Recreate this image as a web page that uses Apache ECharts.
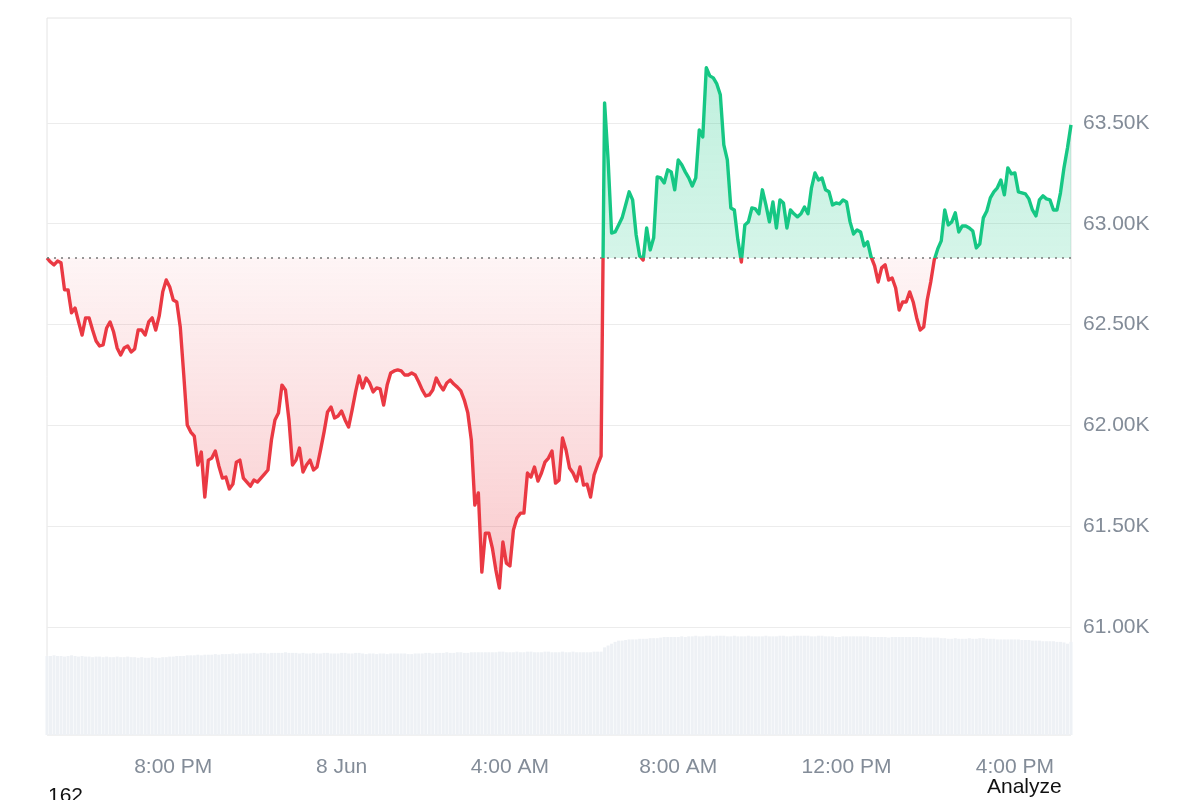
<!DOCTYPE html>
<html>
<head>
<meta charset="utf-8">
<title>24h price</title>
<script src="https://cdn.jsdelivr.net/npm/echarts@6.0.0/dist/echarts.min.js"></script>
<style>
html, body { margin: 0; padding: 0; background: #fff; }
#root { width: 1200px; height: 800px; }
</style>
</head>
<body>
<div id="root"></div>
<script>
// 5 minute closes, 7 Jun 17:00 -> 8 Jun 17:20, one row per hour
const prices = [
	62830, 62810, 62796, 62815, 62806, 62672, 62672, 62558, 62582, 62513, 62448, 62533,
	62533, 62473, 62419, 62394, 62399, 62483, 62513, 62463, 62384, 62349, 62384, 62394,
	62364, 62379, 62473, 62473, 62448, 62513, 62533, 62473, 62543, 62662, 62721, 62686,
	62622, 62612, 62488, 62250, 62002, 61967, 61947, 61804, 61868, 61645, 61828, 61838,
	61873, 61799, 61739, 61744, 61685, 61709, 61818, 61828, 61739, 61719, 61699, 61729,
	61719, 61739, 61759, 61779, 61928, 62027, 62062, 62200, 62176, 62027, 61804, 61828,
	61888, 61769, 61804, 61828, 61779, 61794, 61878, 61967, 62067, 62091, 62037, 62047,
	62071, 62027, 61992, 62076, 62166, 62245, 62186, 62235, 62210, 62166, 62186, 62181,
	62101, 62200, 62260, 62270, 62275, 62270, 62250, 62250, 62260, 62250, 62215, 62176,
	62146, 62151, 62176, 62235, 62200, 62176, 62210, 62225, 62205, 62190, 62171, 62126,
	62062, 61928, 61605, 61665, 61273, 61466, 61466, 61392, 61283, 61194, 61422, 61317,
	61303, 61481, 61541, 61565, 61565, 61764, 61744, 61794, 61724, 61764, 61818, 61838,
	61873, 61714, 61729, 61938, 61878, 61789, 61764, 61724, 61794, 61704, 61709, 61645,
	61754, 61804, 61848, 63599, 63316, 62954, 62959, 62994, 63029, 63093, 63158, 63118,
	62944, 62840, 62820, 62979, 62870, 62930, 63232, 63227, 63202, 63267, 63257, 63168,
	63316, 63292, 63257, 63227, 63187, 63227, 63465, 63430, 63773, 63733, 63723, 63693,
	63639, 63391, 63316, 63078, 63068, 62920, 62810, 62994, 63009, 63078, 63073, 63049,
	63168, 63093, 63009, 63108, 62979, 63118, 63103, 62979, 63068, 63049, 63034, 63049,
	63083, 63049, 63178, 63252, 63217, 63227, 63168, 63158, 63093, 63103, 63098, 63118,
	63108, 63009, 62949, 62969, 62959, 62890, 62910, 62835, 62791, 62711, 62781, 62796,
	62721, 62731, 62681, 62572, 62612, 62612, 62662, 62612, 62533, 62473, 62488, 62622,
	62711, 62820, 62875, 62915, 63068, 62994, 63009, 63054, 62959, 62989, 62989, 62979,
	62964, 62880, 62900, 63029, 63063, 63128, 63158, 63178, 63217, 63143, 63277, 63247,
	63252, 63158, 63153, 63148, 63123, 63068, 63039, 63118, 63138, 63123, 63118, 63068,
	63068, 63153, 63277, 63376, 63490
]

// rolling volume (billions), same timestamps
const volumes = [
	12.9, 12.9, 13.0, 12.9, 12.9, 12.8, 12.9, 13.0, 12.9, 12.8, 12.9, 12.8,
	12.8, 12.7, 12.8, 12.8, 12.7, 12.8, 12.7, 12.7, 12.8, 12.7, 12.7, 12.8,
	12.7, 12.7, 12.6, 12.7, 12.6, 12.6, 12.7, 12.6, 12.6, 12.7, 12.7, 12.8,
	12.8, 12.9, 12.9, 12.9, 13.0, 13.0, 13.0, 13.1, 13.0, 13.1, 13.1, 13.1,
	13.2, 13.1, 13.2, 13.2, 13.2, 13.3, 13.2, 13.3, 13.3, 13.3, 13.3, 13.4,
	13.3, 13.4, 13.4, 13.3, 13.4, 13.4, 13.4, 13.4, 13.5, 13.4, 13.4, 13.4,
	13.3, 13.4, 13.3, 13.3, 13.4, 13.3, 13.3, 13.4, 13.4, 13.3, 13.3, 13.3,
	13.4, 13.4, 13.3, 13.3, 13.4, 13.4, 13.3, 13.2, 13.3, 13.3, 13.2, 13.3,
	13.3, 13.2, 13.3, 13.3, 13.3, 13.3, 13.3, 13.2, 13.2, 13.3, 13.3, 13.3,
	13.4, 13.4, 13.3, 13.4, 13.4, 13.4, 13.5, 13.4, 13.4, 13.5, 13.5, 13.4,
	13.4, 13.5, 13.5, 13.5, 13.5, 13.5, 13.5, 13.5, 13.5, 13.6, 13.6, 13.5,
	13.5, 13.5, 13.6, 13.5, 13.5, 13.6, 13.6, 13.5, 13.5, 13.5, 13.6, 13.6,
	13.5, 13.5, 13.5, 13.6, 13.5, 13.5, 13.6, 13.5, 13.5, 13.5, 13.5, 13.5,
	13.6, 13.6, 13.6, 14.3, 14.6, 14.9, 15.2, 15.4, 15.4, 15.5, 15.6, 15.6,
	15.6, 15.7, 15.7, 15.7, 15.8, 15.8, 15.8, 15.9, 16.0, 16.0, 16.0, 16.0,
	16.0, 16.1, 16.0, 16.1, 16.1, 16.2, 16.1, 16.1, 16.2, 16.2, 16.1, 16.2,
	16.2, 16.2, 16.1, 16.1, 16.2, 16.1, 16.1, 16.1, 16.2, 16.1, 16.1, 16.1,
	16.1, 16.2, 16.1, 16.1, 16.1, 16.2, 16.2, 16.1, 16.1, 16.2, 16.2, 16.2,
	16.2, 16.2, 16.1, 16.1, 16.2, 16.2, 16.1, 16.1, 16.1, 16.0, 16.0, 16.1,
	16.1, 16.1, 16.1, 16.1, 16.1, 16.1, 16.1, 16.0, 16.0, 16.0, 16.0, 16.0,
	15.9, 16.0, 16.0, 16.0, 16.0, 16.0, 16.0, 16.0, 16.0, 16.0, 15.9, 15.9,
	15.9, 15.9, 15.9, 15.8, 15.8, 15.7, 15.7, 15.8, 15.7, 15.7, 15.7, 15.8,
	15.7, 15.7, 15.8, 15.8, 15.7, 15.7, 15.7, 15.6, 15.6, 15.6, 15.6, 15.6,
	15.6, 15.6, 15.5, 15.5, 15.5, 15.4, 15.4, 15.4, 15.3, 15.3, 15.3, 15.3,
	15.2, 15.2, 15.1, 14.9, 15.2
]

const baseline = 62830   // price 24h ago, the dotted line
const startHour = 17
const xTickLabels = {
	'20:00': '8:00 PM',
	'00:00': '8 Jun',
	'04:00': '4:00 AM',
	'08:00': '8:00 AM',
	'12:00': '12:00 PM',
	'16:00': '4:00 PM'
}

const green = '#16c784'
const red = '#ea3943'
const labelColor = '#838c98'
const fontFamily = '"Liberation Sans", Arial, sans-serif'

const categories = []
for (let i = 0; i < prices.length; i++) {
	const m = startHour * 60 + i * 5
	const h = Math.floor(m / 60) % 24
	categories.push(String(h).padStart(2, '0') + ':' + String(m % 60).padStart(2, '0'))
}

const chart = echarts.init(document.getElementById('root'))
const option = {
	animation: false,
	textStyle: { fontFamily },
	grid: [
		{ left: 47, right: 129, top: 22, bottom: 72 },
		// outer frame, also holds the volume bars
		{ left: 47, right: 129, top: 18, bottom: 65, show: true, borderColor: '#e4e4e4', borderWidth: 1 }
	],
	xAxis: [
		{ gridIndex: 0, type: 'category', data: categories, boundaryGap: false, show: false },
		{
			gridIndex: 1, type: 'category', data: categories, boundaryGap: false,
			axisLine: { show: false }, axisTick: { show: false }, splitLine: { show: false },
			axisLabel: {
				interval: (idx, val) => val in xTickLabels,
				formatter: val => xTickLabels[val] || '',
				color: labelColor, fontSize: 21, margin: 22, fontFamily
			}
		}
	],
	yAxis: [
		{
			gridIndex: 0, type: 'value', position: 'right',
			min: 60500, max: 64000, interval: 500,
			axisLine: { show: false }, axisTick: { show: false },
			axisLabel: {
				showMinLabel: false, showMaxLabel: false, margin: 12,
				color: labelColor, fontSize: 21, fontFamily,
				formatter: v => (v / 1000).toFixed(2) + 'K'
			},
			splitLine: { showMinLine: false, showMaxLine: false, lineStyle: { color: '#ececec', width: 1 } }
		},
		{ gridIndex: 1, type: 'value', min: 0, max: 117, show: false }
	],
	series: [
		{
			type: 'bar', xAxisIndex: 1, yAxisIndex: 1, data: volumes,
			barCategoryGap: '14%', silent: true,
			itemStyle: { color: '#eef1f5' }
		},
		{
			type: 'line', xAxisIndex: 0, yAxisIndex: 0, data: prices,
			symbol: 'none', silent: true,
			lineStyle: { width: 3.4, join: 'round', color: green },
			areaStyle: { origin: baseline, color: 'rgba(22,199,132,0.2)', opacity: 1 },
			markLine: {
				silent: true, symbol: ['none', 'none'], label: { show: false },
				lineStyle: { color: '#777777', type: [2, 5], width: 1.5 },
				data: [{ yAxis: baseline }]
			}
		}
	],
	graphic: [
		{ type: 'text', left: 48, top: 786, style: { text: '162', font: '21px ' + fontFamily, fill: '#111' } },
		{ type: 'text', left: 987, top: 777, style: { text: 'Analyze', font: '21px ' + fontFamily, fill: '#111' } }
	]
}
chart.setOption(option)

// split colours at the baseline: green above it, red below (pixel gradients)
const H = 800
const baseY = chart.convertToPixel({ yAxisIndex: 0 }, baseline)
const topY = chart.convertToPixel({ yAxisIndex: 0 }, Math.max(...prices))
const lowY = chart.convertToPixel({ yAxisIndex: 0 }, Math.min(...prices))
const cut = (baseY - topY) / (lowY - topY)

const lineColor = new echarts.graphic.LinearGradient(0, 0, 0, H, [
	{ offset: 0, color: green },
	{ offset: baseY / H, color: green },
	{ offset: baseY / H, color: red },
	{ offset: 1, color: red }
], true)
const areaColor = new echarts.graphic.LinearGradient(0, topY, 0, lowY, [
	{ offset: 0, color: 'rgba(22,199,132,0.27)' },
	{ offset: cut, color: 'rgba(22,199,132,0.18)' },
	{ offset: cut, color: 'rgba(234,57,67,0.05)' },
	{ offset: 1, color: 'rgba(234,57,67,0.27)' }
], true)

chart.setOption({
	series: [{}, { lineStyle: { color: lineColor }, areaStyle: { color: areaColor } }]
})
</script>
</body>
</html>
